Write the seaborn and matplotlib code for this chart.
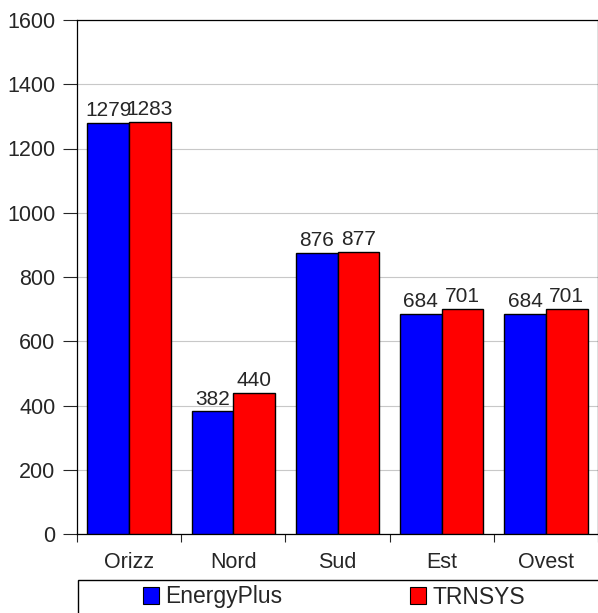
import pandas as pd
import numpy as np
import seaborn as sns
import matplotlib.pyplot as plt
from matplotlib.patches import Patch, Rectangle

# data
categories = ["Orizz", "Nord", "Sud", "Est", "Ovest"]
energyplus = [1279, 382, 876, 684, 684]
trnsys = [1283, 440, 877, 701, 701]
series = ["EnergyPlus", "TRNSYS"]
colors = ["#0000FF", "#FF0000"]
y_ticks = [0, 200, 400, 600, 800, 1000, 1200, 1400, 1600]

df = pd.DataFrame({
    "cat": categories * 2,
    "val": energyplus + trnsys,
    "serie": [series[0]] * len(categories) + [series[1]] * len(categories),
})

sns.set_style("white")
plt.rcParams["font.family"] = ["Liberation Sans", "DejaVu Sans"]
fs = 15.5

fig = plt.figure(figsize=(5.98, 6.13), dpi=100)
ax = fig.add_axes([77 / 598, 79 / 613, 521 / 598, 514 / 613])

sns.barplot(data=df, x="cat", y="val", hue="serie", palette=colors,
            width=0.8, gap=0, edgecolor="black", linewidth=1.0,
            saturation=1, legend=False, ax=ax, zorder=3)

for cont in ax.containers:
    ax.bar_label(cont, padding=2, fontsize=15)

ax.set_ylim(0, 1600)
ax.set_xlim(-0.5, len(categories) - 0.5)
ax.set_yticks(y_ticks)
ax.yaxis.grid(True, color="#c8c8c8", linewidth=0.8, zorder=0)
ax.set_axisbelow(True)

# ticks between categories, labels at centres
ax.set_xticks(np.arange(-0.5, len(categories)), minor=False)
ax.set_xticklabels([])
ax.set_xticks(np.arange(len(categories)), minor=True)
ax.set_xticklabels(categories, minor=True)
ax.tick_params(axis="x", which="major", length=6, width=0.8, direction="out", bottom=True)
ax.tick_params(axis="x", which="minor", length=0, pad=13, labelsize=fs)
ax.tick_params(axis="y", length=10, width=0.8, direction="out", left=True, labelsize=fs, pad=5.5)
ax.set_xlabel("")
ax.set_ylabel("")
for s in ax.spines.values():
    s.set_color("black")
    s.set_linewidth(0.9)

# legend box below the plot
fig.patches.append(Rectangle((78 / 598, -0.01), 1.0, (613 - 580) / 613 + 0.01,
                             transform=fig.transFigure, fill=False,
                             edgecolor="black", linewidth=1.0))
handles = [Patch(facecolor=c, edgecolor="black", linewidth=0.8, label=s)
           for c, s in zip(colors, series)]
fig.legend(handles=handles, loc="center", bbox_to_anchor=(334 / 598, (613 - 597) / 613),
           ncol=2, frameon=False, fontsize=16.5, handlelength=0.7, handleheight=0.7,
           handletextpad=0.25, columnspacing=5.6, borderpad=0, borderaxespad=0)

fig.savefig("out.png", dpi=100)
